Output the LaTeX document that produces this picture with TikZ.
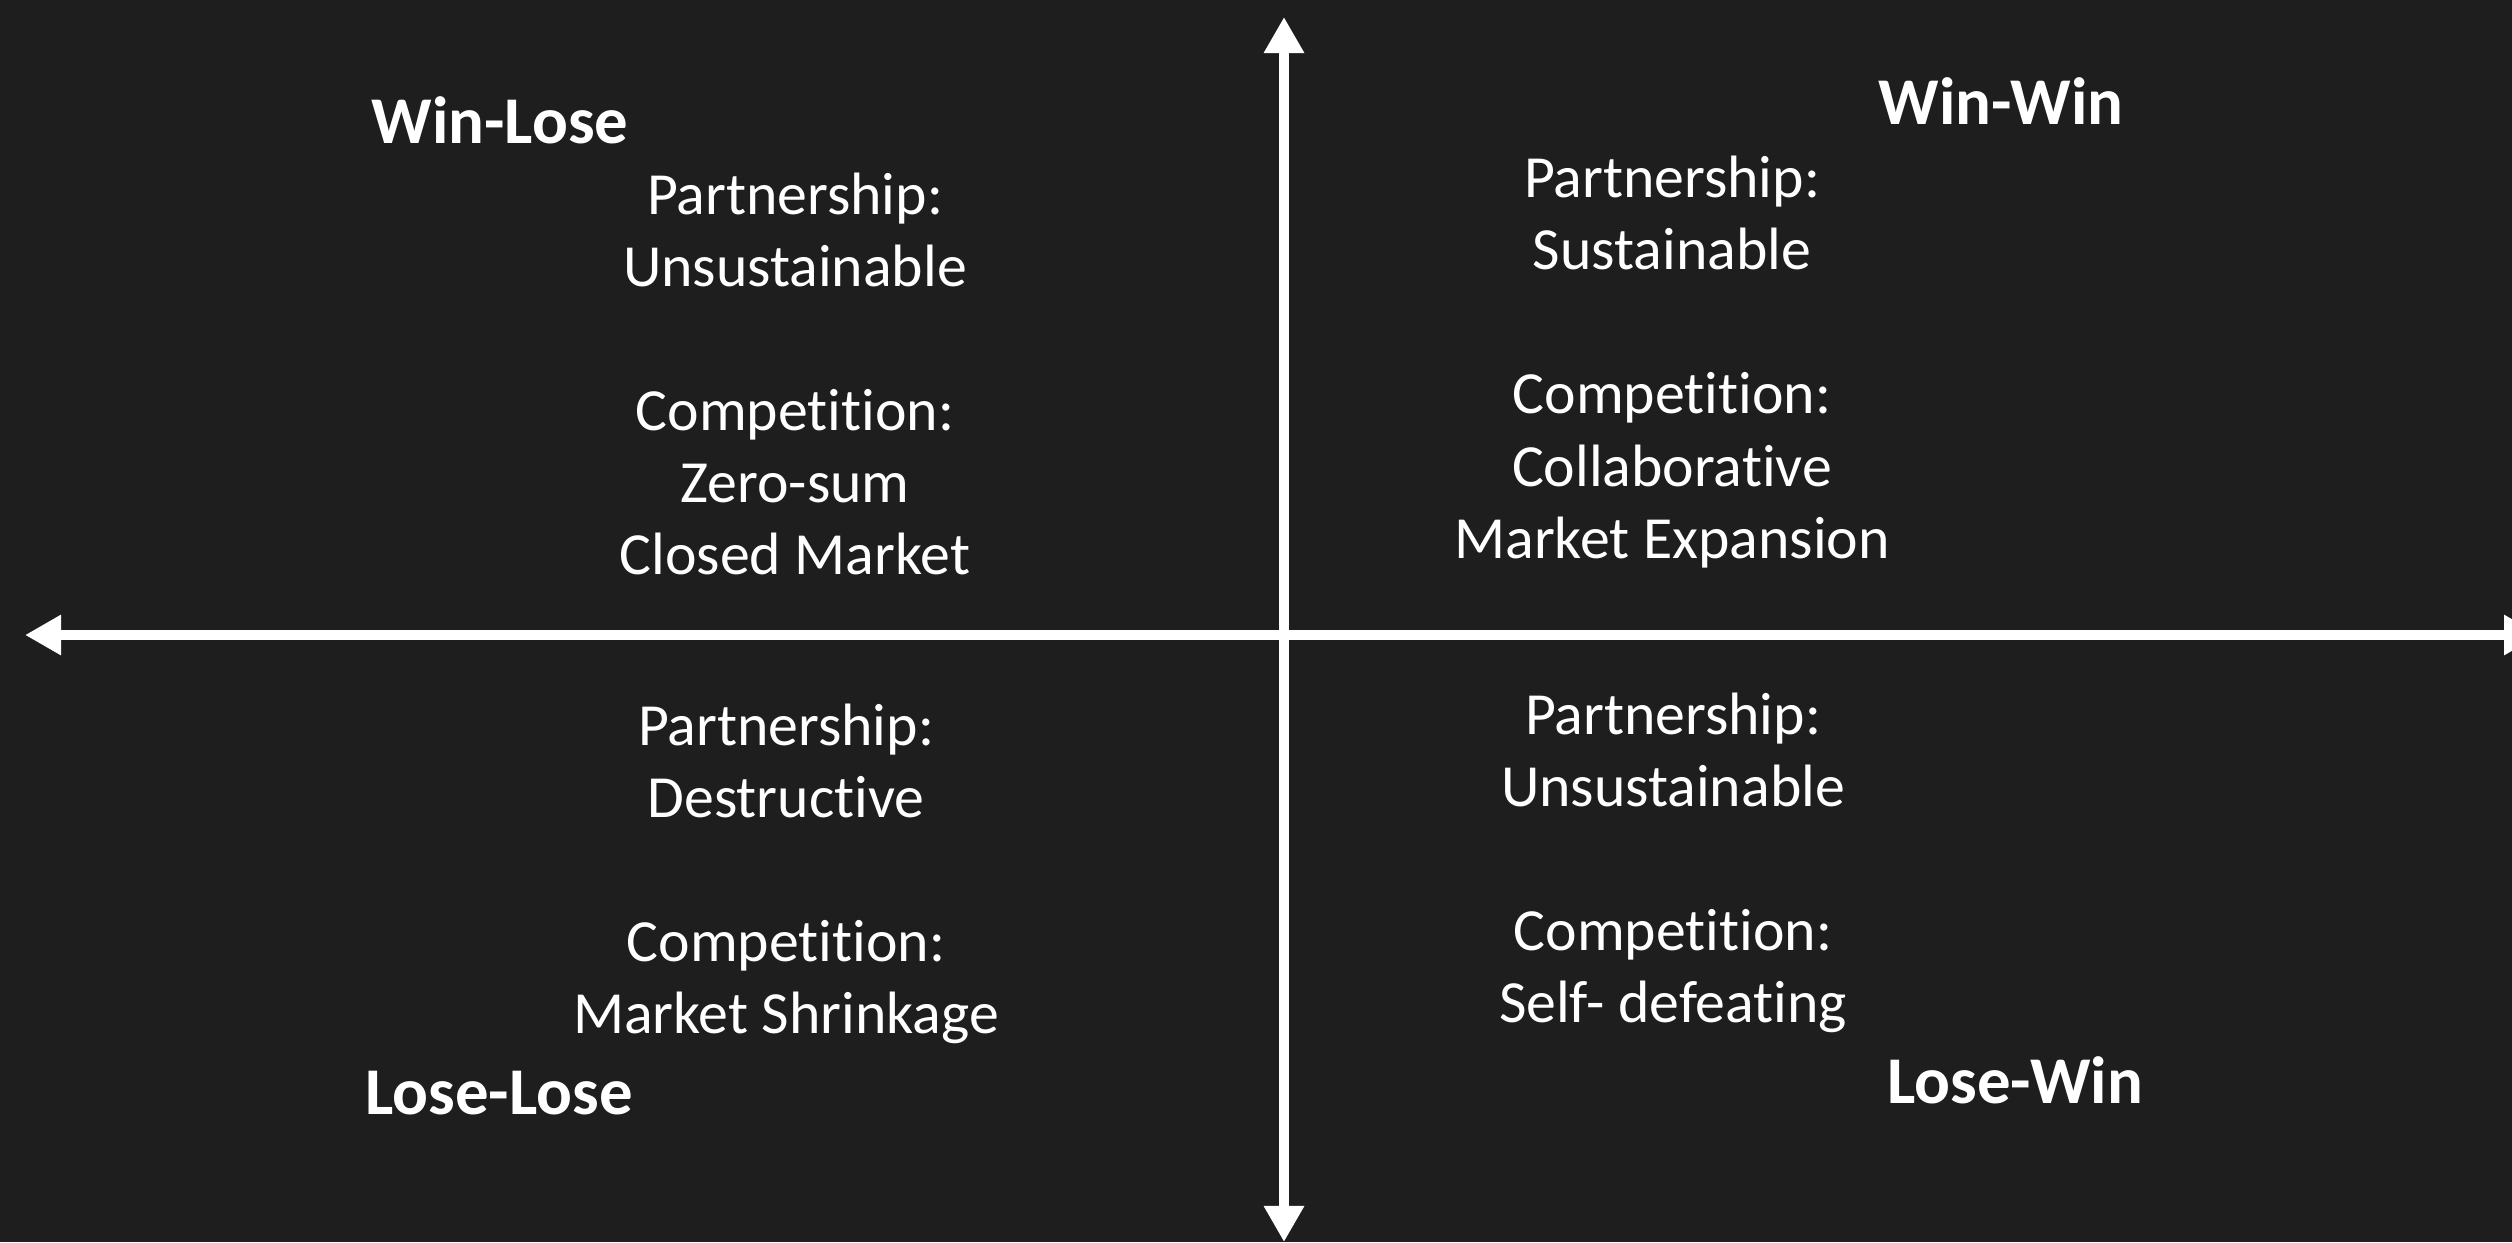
\documentclass[tikz,border=0pt]{standalone}
\usepackage{fontspec}
\setmainfont{Carlito}[Ligatures={NoCommon}]
\usetikzlibrary{arrows.meta}
\definecolor{bgc}{HTML}{1E1E1E}
\tikzset{
  axis/.style={draw=white, line width=0.1cm, {Triangle[length=0.36cm,width=0.38cm]}-{Triangle[length=0.36cm,width=0.38cm]}},
  body/.style={text=white, align=center, inner sep=0pt, font=\fontsize{17pt}{20.5pt}\selectfont},
  head/.style={text=white, inner sep=0pt, font=\fontsize{19pt}{23pt}\selectfont\bfseries}
}
\begin{document}
\begin{tikzpicture}[x=0.01cm, y=-0.01cm]
\fill[bgc] (0,0) rectangle (2512,1242);
\useasboundingbox (0,0) rectangle (2512,1242);
\clip (0,0) rectangle (2512,1242);
\coordinate (top) at (1284,17);
\coordinate (bot) at (1284,1242);
\coordinate (lft) at (25,635);
\coordinate (rgt) at (2540,635);
\draw[axis] (bot) -- (top);
\draw[axis] (lft) -- (rgt);
\node[head] (wl) at (500,120) {Win-Lose};
\node[head] (ww) at (2001,101) {Win-Win};
\node[head] (ll) at (499,1093) {Lose-Lose};
\node[head] (lw) at (2015,1080) {Lose-Win};
\node[body] (tl) at (795,374) {Partnership:\\Unsustainable\\[20.5pt]Competition:\\Zero-sum\\Closed Market};
\node[body] (tr) at (1672,362) {Partnership:\\Sustainable\\[20.5pt]Competition:\\Collaborative\\Market Expansion};
\node[body] (bl) at (786,874) {Partnership:\\Destructive\\[20.5pt]Competition:\\Market Shrinkage};
\node[body] (br) at (1673,863) {Partnership:\\Unsustainable\\[20.5pt]Competition:\\Self- defeating};
\end{tikzpicture}
\end{document}
